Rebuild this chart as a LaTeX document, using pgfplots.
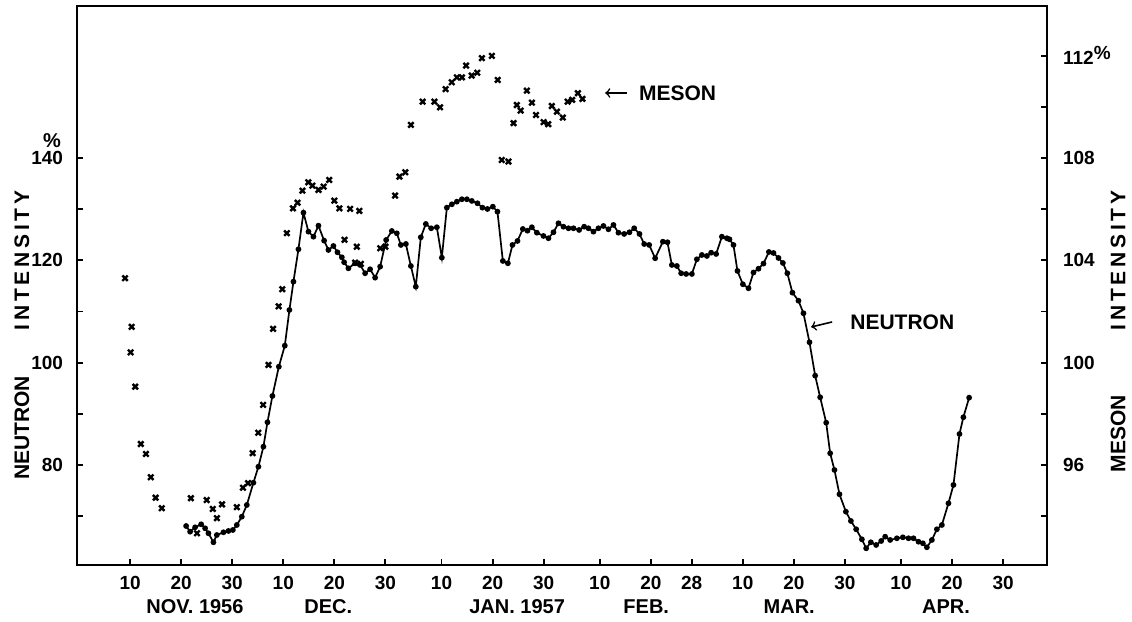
\documentclass[border=0pt]{standalone}
\usepackage{fontspec}
\setmainfont{Liberation Sans}
\newfontfamily\spaced[LetterSpace=18]{Liberation Sans}
\usepackage{pgfplots}
\usepackage{pgfplotstable}
\pgfplotsset{compat=1.18}

% day = days after 31 Oct 1956
\pgfplotstableread{
d N
20.97 68.08
21.75 66.97
22.73 67.83
23.91 68.41
24.69 67.63
25.34 66.66
26.32 64.90
26.98 66.32
28.28 66.85
29.26 67.11
30.12 67.30
30.90 68.28
31.88 69.90
32.86 72.19
34.15 76.54
35.13 79.67
36.11 83.58
36.90 88.35
37.87 93.49
39.13 99.21
40.30 103.32
41.20 110.29
41.99 115.83
42.97 122.16
43.95 129.31
44.93 125.60
45.91 124.62
46.89 126.77
48.00 123.84
48.84 122.02
49.82 122.80
50.61 121.57
51.47 120.59
51.92 119.62
52.76 118.44
54.07 119.42
55.05 119.09
56.03 117.47
57.01 118.25
57.99 116.61
58.97 118.76
60.15 123.97
61.26 125.73
62.24 125.28
63.03 123.00
64.01 123.19
64.99 118.89
65.96 114.85
66.94 124.50
67.92 127.10
68.96 126.26
70.08 126.46
71.06 120.52
72.04 130.29
73.02 130.95
74.00 131.46
74.98 131.93
75.96 131.93
76.93 131.60
78.03 131.15
79.01 130.29
79.99 130.03
81.05 130.48
81.95 129.51
83.01 119.87
83.99 119.42
84.89 123.00
85.87 123.78
86.92 126.12
87.83 125.79
88.69 126.46
89.67 125.40
90.96 124.76
91.94 124.31
92.92 125.48
93.90 127.24
94.88 126.57
95.86 126.26
96.84 126.26
97.95 125.93
98.93 126.57
99.77 126.26
100.75 125.60
101.73 126.26
102.71 126.71
103.69 126.07
104.67 126.91
105.65 125.40
106.77 125.15
107.81 125.48
108.73 126.26
109.77 125.15
110.69 123.19
111.67 123.00
112.84 120.40
114.35 123.64
115.25 123.53
116.11 119.09
117.09 118.89
117.93 117.47
118.91 117.33
120.03 117.33
121.01 120.20
121.99 121.04
122.97 120.85
123.81 121.49
124.79 121.24
125.91 124.62
126.89 124.31
127.40 124.11
128.18 123.00
128.96 117.92
130.02 115.32
131.12 114.54
132.10 117.62
133.08 118.35
134.06 119.36
135.12 121.63
136.02 121.43
137.00 120.46
137.86 119.48
138.73 117.47
139.73 113.68
140.91 112.11
141.89 109.65
143.07 103.98
144.18 97.46
145.16 93.23
146.34 88.27
147.12 82.29
147.96 79.03
148.94 74.28
150.20 70.88
151.18 69.06
152.21 67.44
153.33 65.48
154.17 63.72
155.09 64.90
156.13 64.37
157.11 65.15
157.89 65.99
158.87 65.35
160.19 65.68
161.36 65.87
162.46 65.68
163.44 65.68
164.42 65.01
165.28 64.70
166.06 63.92
167.04 65.35
168.02 67.44
169.00 68.28
170.29 72.52
171.27 76.10
172.45 86.06
173.21 89.33
174.34 93.16
}\neutron

\pgfplotstableread{
d M
9.0 103.30
10.3 101.40
10.1 100.40
11.0 99.06
12.1 96.82
13.1 96.43
14.05 95.52
15.0 94.72
16.2 94.31
21.9 94.70
23.1 93.33
25.0 94.63
26.2 94.28
27.0 93.92
28.0 94.46
30.9 94.35
32.1 95.11
33.1 95.29
34.0 96.46
35.1 97.26
36.05 98.35
37.1 99.91
38.0 101.32
39.1 102.20
39.8 102.87
40.7 105.06
41.9 106.03
42.8 106.25
43.75 106.72
44.9 107.05
45.7 106.92
46.9 106.75
47.9 106.88
49.0 107.14
50.0 106.33
51.0 106.03
52.0 104.80
53.1 106.01
54.07 103.91
54.4 104.53
54.9 105.93
55.19 103.86
59.0 104.47
60.0 104.53
61.9 106.53
62.75 107.27
63.9 107.44
65.0 109.29
67.3 110.20
69.6 110.20
70.7 109.98
71.8 110.69
73.0 110.96
74.0 111.15
75.0 111.15
75.8 111.61
76.9 111.22
78.0 111.33
78.9 111.90
80.85 111.99
82.0 111.05
82.8 107.92
84.1 107.86
85.1 109.36
85.75 110.07
86.5 109.85
87.7 110.63
88.7 110.16
89.5 109.68
91.0 109.40
91.9 109.32
92.6 110.03
93.6 109.81
94.75 109.58
95.7 110.20
96.6 110.27
97.7 110.53
98.6 110.31
}\meson

\begin{document}
\begin{tikzpicture}
\pgfplotsset{
  chartbase/.style={
    scale only axis,
    width=485pt, height=279.5pt,
    xmin=-0.4, xmax=189.6,
    clip=false,
    axis line style={line width=1.2pt},
    tick style={line width=0.9pt, black},
    major tick length=3pt,
    ticklabel style={font=\bfseries\fontsize{9.5}{10}\selectfont},
    /pgf/number format/assume math mode=true,
  },
}
\begin{axis}[
  chartbase,
  ymin=60.46, ymax=169.7,
  xtick={10,20,30,40,50,60,71,81,91,102,112,120,130,140,150,161,171,181},
  xticklabels={10,20,30,10,20,30,10,20,30,10,20,28,10,20,30,10,20,30},
  xtick pos=lower,
  xticklabel style={yshift=-2pt},
  ytick={70,80,...,140},
  yticklabels={,80,,100,,120,,140},
  ytick pos=left,
  yticklabel style={xshift=-3.5pt},
]
\addplot[black, line width=0.85pt, mark=*, mark size=1.0pt] table[x=d, y=N] {\neutron};

\coordinate (bbl) at (rel axis cs:-0.0794,-0.1002);
\coordinate (btr) at (rel axis cs:1.0876,1.0107);

% month labels
\begin{scope}[every node/.style={font=\bfseries\fontsize{10}{10}\selectfont, yshift=-21pt}]
\node at (axis cs:22.7,60.46) {NOV. 1956};
\node at (axis cs:48.8,60.46) {DEC.};
\node at (axis cs:85.8,60.46) {JAN. 1957};
\node at (axis cs:111.1,60.46) {FEB.};
\node at (axis cs:139.1,60.46) {MAR.};
\node at (axis cs:169.8,60.46) {APR.};
\end{scope}

\node[font=\bfseries\fontsize{10}{10}\selectfont] at (axis cs:-5.3,143.3) {\%};

% axis titles
\node[rotate=90, font=\bfseries\fontsize{10.5}{11}\selectfont] at (rel axis cs:-0.0567,0.245) {NEUTRON};
\node[rotate=90, font=\bfseries\fontsize{10.5}{11}\selectfont] at (rel axis cs:-0.0567,0.545) {\spaced INTENSITY};
\node[rotate=90, font=\bfseries\fontsize{10.5}{11}\selectfont] at (rel axis cs:1.0732,0.235) {MESON};
\node[rotate=90, font=\bfseries\fontsize{10.5}{11}\selectfont] at (rel axis cs:1.0732,0.545) {\spaced INTENSITY};

% curve labels
\draw[->, line width=0.8pt] (axis cs:107.35,152.7) -- (axis cs:103.05,152.7);
\node[anchor=west, font=\bfseries\fontsize{10.5}{11}\selectfont] at (axis cs:108.3,152.7) {MESON};
\draw[->, line width=0.8pt] (axis cs:147.5,107.95) -- (axis cs:143.4,106.97);
\node[anchor=west, font=\bfseries\fontsize{10.5}{11}\selectfont] at (axis cs:149.7,107.95) {NEUTRON};
\end{axis}

\begin{axis}[
  chartbase,
  ymin=92.09, ymax=113.94,
  axis x line=none,
  axis y line*=right,
  ytick={94,96,...,112},
  yticklabels={,96,,100,,104,,108,,{112\raisebox{0.55ex}{\%}}},
  ytick pos=right,
  yticklabel style={xshift=4.5pt},
]
\addplot[only marks, black, mark=x, mark size=1.9pt, line width=1.2pt] table[x=d, y=M] {\meson};
\end{axis}

\pgfresetboundingbox
\useasboundingbox (bbl) rectangle (btr);
\end{tikzpicture}
\end{document}
